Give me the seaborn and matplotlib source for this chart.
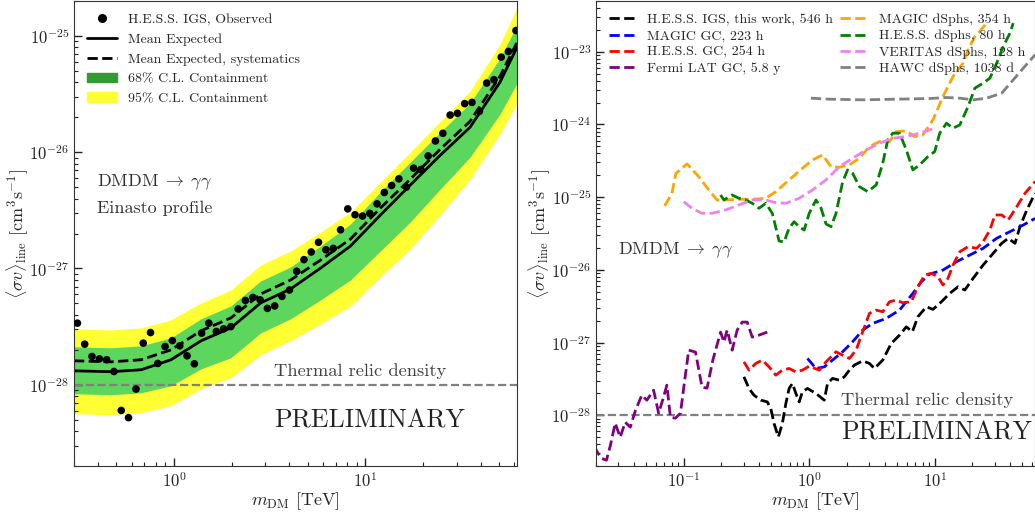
import numpy as np
import matplotlib
matplotlib.use("Agg")
import matplotlib.pyplot as plt
import seaborn as sns
from matplotlib.lines import Line2D
from matplotlib.patches import Patch

# tutti i valori sono log10 (massa in TeV, <sigma v> in cm^3 s^-1)

# pannello sinistro: punti osservati H.E.S.S. IGS
obs_logm = [-0.505, -0.467, -0.429, -0.390, -0.352, -0.314, -0.276, -0.238, -0.199, -0.161,
            -0.123, -0.085, -0.047, -0.009, 0.030, 0.068, 0.106, 0.144, 0.182, 0.221,
            0.259, 0.297, 0.335, 0.373, 0.412, 0.450, 0.488, 0.526, 0.564, 0.603,
            0.641, 0.679, 0.717, 0.755, 0.794, 0.832, 0.870, 0.908, 0.946, 0.985,
            1.023, 1.061, 1.099, 1.137, 1.175, 1.214, 1.252, 1.290, 1.328, 1.366,
            1.405, 1.443, 1.481, 1.519, 1.557, 1.596, 1.634, 1.672, 1.710, 1.748, 1.787]
obs_logsv = [-27.470, -27.651, -27.757, -27.777, -27.785, -27.886, -28.221, -28.283, -28.037, -27.642,
             -27.551, -27.817, -27.671, -27.620, -27.665, -27.751, -27.820, -27.556, -27.470, -27.542,
             -27.519, -27.500, -27.348, -27.275, -27.249, -27.270, -27.343, -27.322, -27.240, -27.185,
             -27.024, -26.924, -26.858, -26.775, -26.839, -26.827, -26.667, -26.487, -26.538, -26.549,
             -26.526, -26.444, -26.346, -26.286, -26.229, -26.300, -26.137, -26.148, -26.032, -25.903,
             -25.837, -25.680, -25.665, -25.582, -25.571, -25.648, -25.405, -25.376, -25.182, -25.133, -24.953]

# atteso medio, sistematiche e bande di contenimento
exp_logm = [-0.523, -0.328, -0.172, -0.016, 0.141, 0.297, 0.453, 0.609, 0.766, 0.922,
            1.078, 1.234, 1.391, 1.547, 1.703, 1.792]
mean_exp = [-27.880, -27.888, -27.871, -27.785, -27.622, -27.511, -27.296, -27.176, -26.996, -26.807,
            -26.541, -26.283, -26.026, -25.785, -25.399, -25.099]
mean_sys = [-27.794, -27.803, -27.785, -27.700, -27.536, -27.425, -27.219, -27.099, -26.927, -26.747,
            -26.481, -26.232, -25.974, -25.734, -25.348, -25.056]
b95_hi = [-27.519, -27.528, -27.511, -27.442, -27.296, -27.185, -26.970, -26.850, -26.687, -26.515,
          -26.258, -26.000, -25.734, -25.476, -25.073, -24.755]
b68_hi = [-27.674, -27.682, -27.665, -27.597, -27.433, -27.322, -27.107, -26.987, -26.807, -26.618,
          -26.343, -26.086, -25.828, -25.579, -25.193, -24.910]
b68_lo = [-28.077, -28.086, -28.069, -28.009, -27.863, -27.768, -27.554, -27.433, -27.270, -27.099,
          -26.850, -26.601, -26.318, -26.043, -25.674, -25.408]
b95_lo = [-28.249, -28.258, -28.240, -28.180, -28.034, -27.940, -27.742, -27.622, -27.476, -27.322,
          -27.073, -26.833, -26.541, -26.232, -25.845, -25.579]

# pannello destro: confronto con altri limiti
hess_igs_m = [-0.520, -0.480, -0.440, -0.386, -0.334, -0.306, -0.280, -0.246, -0.214, -0.186,
              -0.160, -0.134, -0.106, -0.080, -0.054, -0.014, 0.054, 0.120, 0.146, 0.186,
              0.240, 0.280, 0.320, 0.360, 0.426, 0.480, 0.520, 0.586, 0.654, 0.720,
              0.774, 0.822, 0.866, 0.934, 0.986, 1.054, 1.120, 1.186, 1.240, 1.306,
              1.386, 1.466, 1.534, 1.586, 1.640, 1.680, 1.734, 1.800]
hess_igs_sv = [-27.472, -27.632, -27.725, -27.793, -27.817, -27.908, -28.114, -28.299, -28.114, -27.839,
               -27.632, -27.563, -27.701, -27.817, -27.679, -27.632, -27.701, -27.793, -27.563, -27.494,
               -27.518, -27.472, -27.380, -27.311, -27.252, -27.288, -27.357, -27.242, -27.012, -26.898,
               -26.784, -26.853, -26.646, -26.508, -26.544, -26.439, -26.324, -26.233, -26.278, -26.117,
               -25.934, -25.773, -25.635, -25.566, -25.635, -25.406, -25.176, -24.946]

magic_gc_m = [-0.014, 0.054, 0.120, 0.186, 0.266, 0.346, 0.426, 0.506, 0.614, 0.720,
              0.826, 0.894, 0.960, 1.066, 1.174, 1.280, 1.386, 1.494, 1.626, 1.706, 1.800]
magic_gc_sv = [-27.219, -27.357, -27.335, -27.242, -27.128, -26.990, -26.829, -26.737, -26.668, -26.554,
               -26.324, -26.164, -26.058, -26.003, -25.888, -25.796, -25.704, -25.566, -25.452, -25.383, -25.292]

hess_gc_m = [-0.520, -0.480, -0.426, -0.374, -0.320, -0.266, -0.214, -0.160, -0.106, -0.054,
             0.000, 0.080, 0.134, 0.214, 0.266, 0.320, 0.374, 0.426, 0.480, 0.534,
             0.586, 0.640, 0.694, 0.746, 0.814, 0.866, 0.920, 0.974, 1.026, 1.066,
             1.106, 1.146, 1.200, 1.266, 1.334, 1.386, 1.440, 1.480, 1.534, 1.586,
             1.654, 1.720, 1.800]
hess_gc_sv = [-27.266, -27.380, -27.288, -27.242, -27.335, -27.449, -27.380, -27.357, -27.404, -27.380,
              -27.325, -27.380, -27.266, -27.128, -27.174, -27.219, -27.105, -26.853, -26.599, -26.554,
              -26.577, -26.439, -26.416, -26.453, -26.439, -26.233, -26.072, -26.048, -26.095, -26.209,
              -26.117, -25.934, -25.751, -25.682, -25.704, -25.613, -25.452, -25.245, -25.245, -25.314,
              -25.131, -24.946, -24.786]

fermi_m = [-1.712, -1.688, -1.656, -1.616, -1.584, -1.546, -1.506, -1.466, -1.426, -1.384,
           -1.334, -1.294, -1.240, -1.200, -1.168, -1.134, -1.106, -1.066, -1.026, -0.992,
           -0.960, -0.906, -0.854, -0.814, -0.768, -0.706, -0.680, -0.654, -0.614, -0.574,
           -0.534, -0.494, -0.454, -0.400, -0.334]
fermi_sv = [-28.427, -28.510, -28.592, -28.620, -28.413, -28.110, -28.303, -28.096, -28.165, -27.931,
            -27.725, -27.793, -27.656, -27.972, -27.793, -27.587, -28.028, -28.041, -27.972, -27.518,
            -27.105, -27.132, -27.614, -27.628, -27.242, -26.857, -26.994, -26.829, -27.105, -26.829,
            -26.719, -26.719, -26.926, -26.898, -26.857]

magic_dsph_m = [-1.152, -1.094, -1.062, -0.974, -0.880, -0.800, -0.734, -0.666, -0.560, -0.454,
                -0.346, -0.266, -0.160, -0.054, 0.026, 0.106, 0.174, 0.240, 0.320, 0.400,
                0.480, 0.560, 0.640, 0.694, 0.774, 0.840, 0.906, 0.986, 1.066, 1.146,
                1.226, 1.266, 1.320, 1.360, 1.408]
magic_dsph_sv = [-25.121, -24.946, -24.671, -24.543, -24.718, -24.901, -25.039, -25.039, -25.029, -25.029,
                 -25.015, -24.924, -24.763, -24.602, -24.488, -24.419, -24.580, -24.588, -24.556, -24.464,
                 -24.304, -24.236, -24.236, -24.098, -24.088, -24.167, -24.143, -23.937, -23.616, -23.340,
                 -23.156, -22.972, -22.789, -22.720, -22.614]

hess_dsph_m = [-0.706, -0.680, -0.614, -0.560, -0.506, -0.454, -0.400, -0.346, -0.294, -0.240,
               -0.200, -0.160, -0.120, -0.080, -0.040, 0.000, 0.054, 0.094, 0.134, 0.174,
               0.214, 0.266, 0.306, 0.346, 0.400, 0.466, 0.534, 0.586, 0.626, 0.666,
               0.720, 0.774, 0.826, 0.880, 0.946, 1.000, 1.040, 1.094, 1.146, 1.200,
               1.266, 1.320, 1.386, 1.440, 1.494, 1.546, 1.600, 1.626]
hess_dsph_sv = [-24.970, -25.039, -24.970, -25.015, -25.039, -25.084, -25.153, -25.084, -25.222, -25.603,
                -25.617, -25.424, -25.338, -25.410, -25.452, -25.222, -25.039, -25.149, -25.369, -25.406,
                -25.222, -24.791, -24.625, -24.671, -24.855, -24.924, -24.832, -24.533, -24.212, -24.120,
                -24.120, -24.350, -24.625, -24.556, -24.442, -24.373, -24.120, -23.982, -24.051, -24.006,
                -23.753, -23.500, -23.431, -23.362, -23.156, -22.927, -22.742, -22.605]

veritas_m = [-1.000, -0.934, -0.854, -0.774, -0.666, -0.560, -0.454, -0.346, -0.266, -0.186,
             -0.080, 0.026, 0.134, 0.240, 0.346, 0.454, 0.560, 0.666, 0.774, 0.880, 1.000]
veritas_sv = [-25.062, -25.153, -25.222, -25.222, -25.176, -25.107, -25.039, -25.039, -25.076, -25.084,
              -25.015, -24.901, -24.763, -24.580, -24.464, -24.350, -24.258, -24.189, -24.166, -24.120, -24.051]

hawc_m = [0.014, 0.160, 0.426, 0.694, 0.960, 1.094, 1.200, 1.306, 1.414, 1.534, 1.626, 1.706, 1.800]
hawc_sv = [-23.638, -23.652, -23.661, -23.652, -23.643, -23.629, -23.638, -23.661, -23.638, -23.569,
           -23.386, -23.225, -23.041]

thermal_relic = 1e-28

sns.set_style("ticks")
plt.rcParams["font.family"] = ["cmr10", "DejaVu Serif"]
plt.rcParams["mathtext.fontset"] = "cm"
plt.rcParams["axes.formatter.use_mathtext"] = True
plt.rcParams["axes.unicode_minus"] = False
plt.rcParams["axes.edgecolor"] = "#333333"


def p(vals):
    return 10.0 ** np.array(vals)


def sistema_assi(ax, xlim, ylim, xticks, yticks):
    ax.set_xscale("log")
    ax.set_yscale("log")
    ax.set_xticks(xticks)
    ax.set_yticks(yticks)
    ax.set_xlim(*xlim)
    ax.set_ylim(*ylim)
    ax.tick_params(which="both", direction="in", top=False, right=False, labelsize=12, colors="#222222")
    ax.tick_params(which="major", length=6, width=1)
    ax.tick_params(which="minor", length=3, width=0.8)
    ax.set_xlabel(r"$m_{\rm DM}$ [TeV]", fontsize=13, labelpad=0.5)
    ax.set_ylabel(r"$\langle\sigma v\rangle_{\rm line}$ [cm$^3$s$^{-1}$]", fontsize=13, labelpad=-1)
    ax.axhline(thermal_relic, color="grey", ls="--", lw=1.6, zorder=1)


fig = plt.figure(figsize=(10.35, 5.13), dpi=100)
ax1 = fig.add_axes([74 / 1035, 47 / 513, 443 / 1035, 465 / 513])
ax2 = fig.add_axes([596 / 1035, 47 / 513, 439 / 1035, 465 / 513])

canale = r"$\mathrm{DMDM}\;\rightarrow\;\gamma\gamma$"

# ---- pannello sinistro ----
verde = "#5cd65c"
giallo = "#ffff33"
xm = p(exp_logm)
ax1.fill_between(xm, p(b95_lo), p(b95_hi), color=giallo, lw=0, zorder=0)
ax1.fill_between(xm, p(b68_lo), p(b68_hi), color=verde, lw=0, zorder=0)
sns.lineplot(x=xm, y=p(mean_exp), color="k", lw=2, ax=ax1, sort=False, estimator=None)
sns.lineplot(x=xm, y=p(mean_sys), color="k", lw=2, ls="--", ax=ax1, sort=False, estimator=None)
sns.scatterplot(x=p(obs_logm), y=p(obs_logsv), color="k", s=30, edgecolor="none", ax=ax1, zorder=5)
sistema_assi(ax1, (0.3, 62), (2e-29, 2e-25), [1, 10], [1e-28, 1e-27, 1e-26, 1e-25])

handles1 = [
    Line2D([], [], marker="o", ls="", color="k", ms=5.5),
    Line2D([], [], color="k", lw=2),
    Line2D([], [], color="k", lw=2, ls="--"),
    Patch(color="#339933"),
    Patch(color=giallo),
]
labels1 = ["H.E.S.S. IGS, Observed", "Mean Expected", "Mean Expected, systematics",
           "68% C.L. Containment", "95% C.L. Containment"]
ax1.legend(handles1, labels1, loc="upper left", frameon=False, fontsize=10, handlelength=2.2)

ax1.text(0.052, 0.611, canale, transform=ax1.transAxes,
         fontsize=13, color="#333333", va="center")
ax1.text(0.052, 0.555, "Einasto profile", transform=ax1.transAxes,
         fontsize=13, color="#333333", va="center")
ax1.text(0.451, 0.204, "Thermal relic density", transform=ax1.transAxes,
         fontsize=13.3, color="#404040", va="center")
ax1.text(0.451, 0.097, "PRELIMINARY", transform=ax1.transAxes,
         fontsize=18.7, color="#222222", va="center")

# ---- pannello destro ----
curve = [
    (hess_igs_m, hess_igs_sv, "black", "H.E.S.S. IGS, this work, 546 h"),
    (magic_gc_m, magic_gc_sv, "blue", "MAGIC GC, 223 h"),
    (hess_gc_m, hess_gc_sv, "red", "H.E.S.S. GC, 254 h"),
    (fermi_m, fermi_sv, "purple", "Fermi LAT GC, 5.8 y"),
    (magic_dsph_m, magic_dsph_sv, "orange", "MAGIC dSphs, 354 h"),
    (hess_dsph_m, hess_dsph_sv, "green", "H.E.S.S. dSphs, 80 h"),
    (veritas_m, veritas_sv, "violet", "VERITAS dSphs, 128 h"),
    (hawc_m, hawc_sv, "grey", "HAWC dSphs, 1038 d"),
]
for m, sv, col, lab in curve:
    sns.lineplot(x=p(m), y=p(sv), color=col, lw=2, ls="--", label=lab, ax=ax2,
                 sort=False, estimator=None)
sistema_assi(ax2, (0.02, 63), (2e-29, 5e-23), [0.1, 1, 10],
             [1e-28, 1e-27, 1e-26, 1e-25, 1e-24, 1e-23])
ax2.legend(loc="upper left", ncol=2, frameon=False, fontsize=10, handlelength=2.0,
           columnspacing=0.5, labelspacing=0.25)

ax2.text(0.05, 0.465, canale, transform=ax2.transAxes,
         fontsize=13, color="#333333", va="center")
ax2.text(0.558, 0.142, "Thermal relic density", transform=ax2.transAxes,
         fontsize=13.3, color="#404040", va="center")
ax2.text(0.558, 0.071, "PRELIMINARY", transform=ax2.transAxes,
         fontsize=18.7, color="#222222", va="center")

fig.savefig("out.png", dpi=100)
plt.close(fig)
